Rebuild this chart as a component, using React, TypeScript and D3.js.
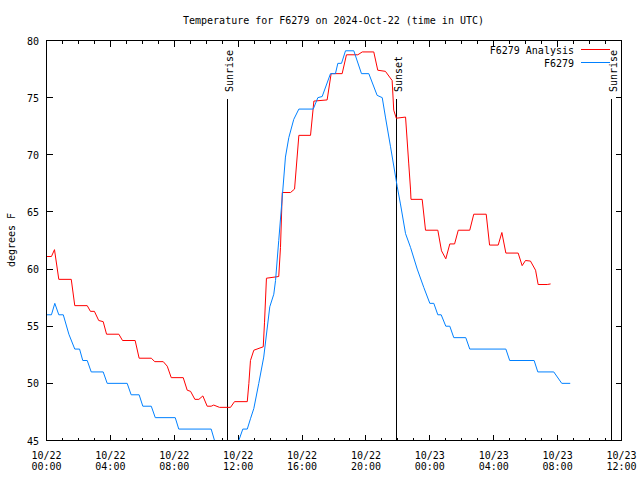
import React from 'react';
import * as d3 from 'd3';

const analysisHours = [0, 0.31, 0.5, 0.77, 1.55, 1.77, 2.55, 2.75, 3.0, 3.27, 3.55, 3.76, 4.53, 4.76, 5.55, 5.8, 6.56, 6.78, 7.31, 7.56, 7.81, 8.56, 8.81, 9.02, 9.29, 9.54, 9.79, 10.06, 10.31, 10.47, 10.83, 11.52, 11.77, 12.57, 12.67, 12.77, 12.98, 13.57, 13.65, 13.77, 14.54, 14.65, 14.76, 15.28, 15.53, 15.8, 16.53, 16.74, 17.57, 17.82, 18.51, 18.78, 19.49, 19.77, 20.49, 20.74, 21.22, 21.64, 21.74, 21.9, 22.48, 22.68, 22.79, 22.82, 23.52, 23.73, 24.5, 24.73, 25.0, 25.25, 25.55, 25.78, 26.5, 26.75, 27.53, 27.74, 28.28, 28.51, 28.76, 29.53, 29.78, 29.99, 30.3, 30.62, 30.78, 31.35, 31.56];
const analysisTemps = [61.1, 61.1, 61.7, 59.1, 59.1, 56.8, 56.8, 56.3, 56.3, 55.5, 55.4, 54.3, 54.3, 53.75, 53.75, 52.2, 52.2, 51.9, 51.9, 51.5, 50.5, 50.5, 49.4, 49.3, 48.6, 48.6, 48.9, 48.0, 48.0, 48.1, 47.9, 47.9, 48.4, 48.4, 50.0, 52.0, 52.9, 53.2, 55.35, 59.2, 59.35, 61.9, 66.7, 66.7, 67.0, 71.7, 71.7, 74.7, 74.8, 77.1, 77.1, 78.75, 78.75, 79.0, 79.0, 77.4, 77.3, 76.5, 73.9, 73.2, 73.3, 69.2, 67.0, 66.1, 66.1, 63.4, 63.4, 61.6, 60.9, 62.2, 62.2, 63.4, 63.4, 64.8, 64.8, 62.1, 62.1, 63.2, 61.4, 61.4, 60.3, 60.75, 60.7, 59.9, 58.65, 58.65, 58.7];

const obsHours = [0, 0.31, 0.52, 0.77, 1.05, 1.4, 1.77, 2.07, 2.27, 2.55, 2.8, 3.55, 3.8, 5.05, 5.3, 5.8, 6.03, 6.56, 6.81, 8.06, 8.28, 10.31, 10.52, 10.8, 11.8, 12.04, 12.29, 12.57, 12.77, 12.98, 13.29, 13.6, 13.98, 14.23, 14.34, 14.54, 14.76, 14.96, 15.17, 15.48, 15.8, 16.7, 16.99, 17.26, 17.78, 18.09, 18.24, 18.47, 18.72, 19.24, 19.72, 20.18, 20.7, 21.02, 21.22, 21.54, 21.96, 22.16, 22.48, 22.79, 23.21, 23.62, 24.0, 24.25, 24.5, 24.71, 25.0, 25.25, 25.5, 26.25, 26.5, 28.76, 29.0, 30.53, 30.76, 31.76, 32.26, 32.79];
const obsTemps = [56.0, 56.0, 57.0, 56.0, 56.0, 54.3, 53.0, 53.0, 52.0, 52.0, 51.0, 51.0, 50.0, 50.0, 49.0, 49.0, 48.0, 48.0, 47.0, 47.0, 46.0, 46.0, 45.0, 44.0, 44.0, 45.0, 46.0, 46.0, 46.9, 47.8, 50.0, 52.3, 56.7, 57.8, 59.0, 62.5, 66.3, 69.8, 71.5, 73.1, 74.0, 74.0, 75.0, 75.1, 77.1, 77.1, 78.0, 78.0, 79.1, 79.1, 77.1, 77.1, 75.2, 75.0, 73.3, 70.7, 67.2, 65.7, 63.1, 61.9, 60.0, 58.4, 57.0, 57.0, 56.0, 56.0, 55.0, 55.0, 54.0, 54.0, 53.0, 53.0, 52.0, 52.0, 51.0, 51.0, 50.0, 50.0];

const eventLabels = ['Sunrise', 'Sunset', 'Sunrise'];
const eventHours = [11.3, 21.87, 35.34];

const xTickHours = [0, 4, 8, 12, 16, 20, 24, 28, 32, 36];
const xTickDates = ['10/22', '10/22', '10/22', '10/22', '10/22', '10/22', '10/23', '10/23', '10/23', '10/23'];
const xTickTimes = ['00:00', '04:00', '08:00', '12:00', '16:00', '20:00', '00:00', '04:00', '08:00', '12:00'];
const yTicks = [45, 50, 55, 60, 65, 70, 75, 80];

const seriesNames = ['F6279 Analysis', 'F6279'];
const seriesColors = ['#ff0000', '#0080ff'];

const FONT = "'DejaVu Sans Mono', monospace";

export default function App() {
  const W = 640, H = 480;
  const L = 46.5, R = 621.5, T = 40.5, B = 440.5;
  const x = d3.scaleLinear().domain([0, 36]).range([L, R]);
  const y = d3.scaleLinear().domain([45, 80]).range([B, T]);

  const line = d3.line<[number, number]>().x(d => x(d[0])).y(d => y(d[1]));
  const analysis = analysisHours.map((h, i) => [h, analysisTemps[i]] as [number, number]);
  const obs = obsHours.map((h, i) => [h, obsTemps[i]] as [number, number]);

  const minorHours = d3.range(0, 37, 1);

  return (
    <svg width={W} height={H} style={{ position: 'absolute', left: 0, top: 0, background: '#fff' }}
      fontFamily={FONT} fontSize={10}>
      <defs>
        <clipPath id="plotclip">
          <rect x={L} y={T} width={R - L} height={B - T} />
        </clipPath>
      </defs>
      <rect x={0} y={0} width={W} height={H} fill="#fff" />

      {/* ticks */}
      <g stroke="#000" strokeWidth={1} shapeRendering="crispEdges">
        {minorHours.map(h => {
          const len = h % 4 === 0 ? 6 : 3;
          return (
            <g key={'mt' + h}>
              <line x1={x(h)} x2={x(h)} y1={B} y2={B - len} />
              <line x1={x(h)} x2={x(h)} y1={T} y2={T + len} />
            </g>
          );
        })}
        {yTicks.map(v => (
          <g key={'yt' + v}>
            <line x1={L} x2={L + 6} y1={y(v)} y2={y(v)} />
            <line x1={R} x2={R - 6} y1={y(v)} y2={y(v)} />
          </g>
        ))}
      </g>

      {/* y tick labels */}
      {yTicks.map(v => (
        <text key={'yl' + v} x={39} y={y(v) + 4} textAnchor="end" fill="#000">{v}</text>
      ))}
      {/* x tick labels */}
      {xTickHours.map((h, i) => (
        <g key={'xl' + h}>
          <text x={x(h)} y={458.5} textAnchor="middle" fill="#000">{xTickDates[i]}</text>
          <text x={x(h)} y={469.5} textAnchor="middle" fill="#000">{xTickTimes[i]}</text>
        </g>
      ))}

      {/* axis label */}
      <text transform={`translate(15,240) rotate(-90)`} textAnchor="middle" fill="#000">degrees F</text>

      {/* title */}
      <text x={333.5} y={23.5} textAnchor="middle" fill="#000">Temperature for F6279 on 2024-Oct-22 (time in UTC)</text>

      {/* sun events */}
      <g>
        {eventHours.map((h, i) => (
          <g key={'ev' + i}>
            <line x1={Math.round(x(h)) + 0.5} x2={Math.round(x(h)) + 0.5} y1={99} y2={B} stroke="#000" strokeWidth={1} shapeRendering="crispEdges" />
            <text transform={`translate(${Math.round(x(h)) + 5.5},92) rotate(-90)`} textAnchor="start" fill="#000">{eventLabels[i]}</text>
          </g>
        ))}
      </g>

      {/* series */}
      <g clipPath="url(#plotclip)" fill="none" strokeWidth={1}>
        <path d={line(analysis) || ''} stroke={seriesColors[0]} />
        <path d={line(obs) || ''} stroke={seriesColors[1]} />
      </g>

      {/* frame */}
      <rect x={L} y={T} width={R - L} height={B - T} fill="none" stroke="#000" strokeWidth={1} shapeRendering="crispEdges" />

      {/* legend */}
      {seriesNames.map((n, i) => (
        <g key={'lg' + i}>
          <text x={574} y={54 + i * 12.5} textAnchor="end" fill="#000">{n}</text>
          <line x1={581} x2={610} y1={49.5 + i * 13} y2={49.5 + i * 13} stroke={seriesColors[i]} strokeWidth={1} shapeRendering="crispEdges" />
        </g>
      ))}
    </svg>
  );
}
